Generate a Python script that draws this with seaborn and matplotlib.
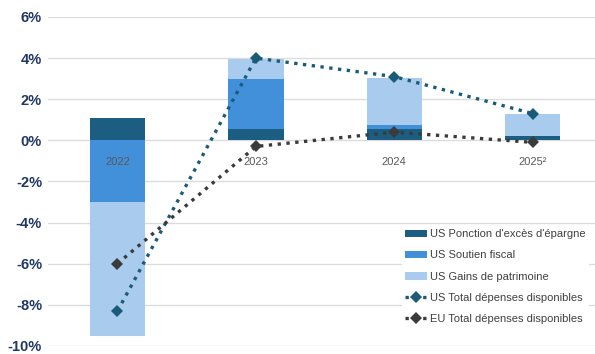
import matplotlib
matplotlib.use("Agg")
import matplotlib.pyplot as plt
import seaborn as sns
import numpy as np
import pandas as pd

years = ["2022", "2023", "2024", "2025²"]
ponction = [1.1, 0.55, 0.55, 0.23]
soutien = [-3.0, 2.45, 0.2, 0.0]
gains = [-6.5, 0.98, 2.3, 1.04]
us_total = [-8.3, 4.0, 3.1, 1.3]
eu_total = [-6.0, -0.3, 0.4, -0.1]
yticks = [-10, -8, -6, -4, -2, 0, 2, 4, 6]

c_dark = "#1B5E82"
c_mid = "#4290D9"
c_light = "#A8CBEE"
c_us = "#1A5B78"
c_eu = "#3B3B3B"

sns.set_theme(style="white")
plt.rcParams["font.family"] = ["Liberation Sans", "DejaVu Sans"]

fig = plt.figure(figsize=(5.95, 3.54), dpi=100)
ax = fig.add_axes([0.08, 0.023, 0.92, 0.929])

x = np.arange(len(years))
w = 0.4
pos_base = np.zeros(len(years))
neg_base = np.zeros(len(years))
for vals, col, lab in [(ponction, c_dark, "US Ponction d'excès d'épargne"),
                       (soutien, c_mid, "US Soutien fiscal"),
                       (gains, c_light, "US Gains de patrimoine")]:
    v = np.array(vals, dtype=float)
    bottoms = np.where(v >= 0, pos_base, neg_base)
    ax.bar(x, v, w, bottom=bottoms, color=col, label=lab, linewidth=0, zorder=2)
    pos_base = pos_base + np.where(v >= 0, v, 0)
    neg_base = neg_base + np.where(v < 0, v, 0)

df = pd.DataFrame({"x": np.concatenate([x, x]),
                   "y": us_total + eu_total,
                   "s": ["US Total dépenses disponibles"] * 4 + ["EU Total dépenses disponibles"] * 4})
sns.lineplot(data=df, x="x", y="y", hue="s", palette=[c_us, c_eu], ax=ax,
             linestyle=":", linewidth=2.4, marker="D", markersize=6,
             markeredgewidth=0, zorder=3)

for xi, lab in zip(x, years):
    ax.annotate(lab, (xi, 0), xytext=(0, -12), textcoords="offset points",
                ha="center", va="top", fontsize=8, color="#595959", zorder=4)

ax.set_ylim(-10, 6)
ax.set_xlim(-0.505, 3.45)
ax.set_yticks(yticks)
ax.set_yticklabels([f"{t}%" for t in yticks], fontsize=10.5, fontweight="bold", color="#1F3864")
ax.set_xticks([])
ax.set_xlabel("")
ax.set_ylabel("")
ax.grid(axis="y", color="#DCDCDC", linewidth=1, zorder=0)
ax.set_axisbelow(True)
for s in ax.spines.values():
    s.set_visible(False)
ax.tick_params(axis="y", length=0, pad=4)

h, l = ax.get_legend_handles_labels()
order = [2, 3, 4, 0, 1]
leg = ax.legend([h[i] for i in order], [l[i] for i in order], loc="lower right",
                bbox_to_anchor=(1.0, 0.04), fontsize=8,
                frameon=True, facecolor="white", edgecolor="none", framealpha=1,
                fancybox=False, handlelength=2.0, handletextpad=0.3, labelspacing=1.0,
                borderpad=0.3)
for t in leg.get_texts():
    t.set_color("#404040")

fig.savefig("out.png", dpi=100)
